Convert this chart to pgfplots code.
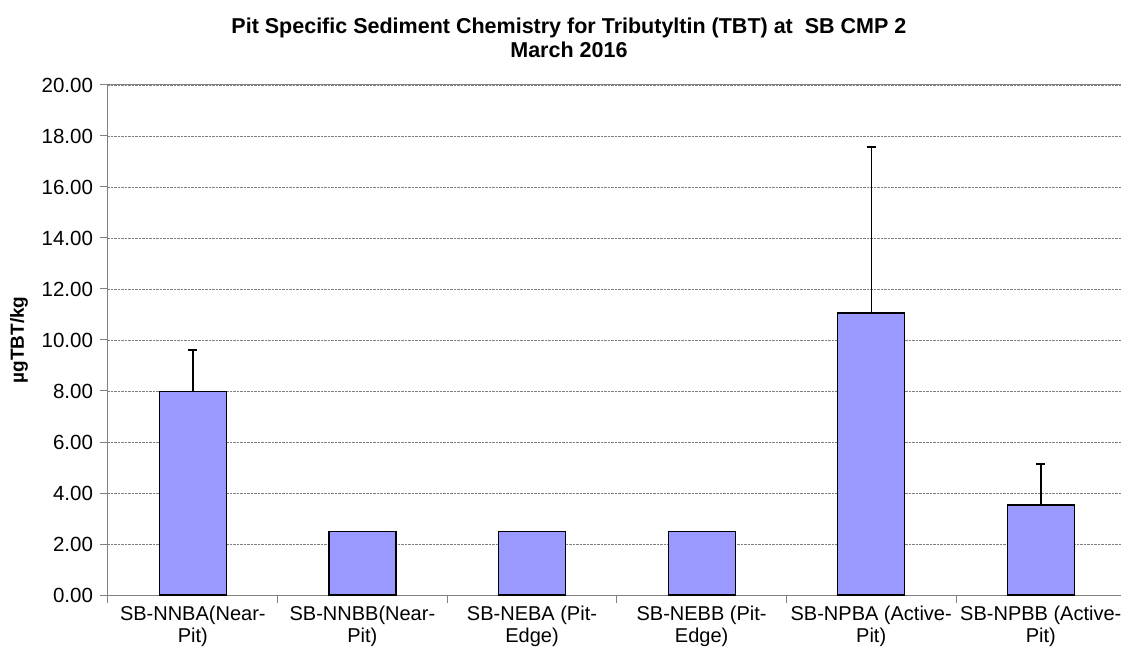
\documentclass[border=0pt]{standalone}
\usepackage{pgfplots}
\pgfplotsset{compat=1.18}
\usepackage{fontspec}
\setmainfont{Liberation Sans}
\definecolor{barblue}{HTML}{9999FF}
\definecolor{gridgray}{HTML}{808080}
\begin{document}
\begin{tikzpicture}
\path[use as bounding box] (-108pt,-58pt) rectangle (1013pt,595pt);
\begin{axis}[
  scale only axis,
  width=1013pt, height=510pt,
  xmin=-0.5, xmax=5.473,
  ymin=0, ymax=20,
  axis x line*=bottom, axis y line*=left,
  axis line style={-, gridgray, line width=1pt},
  ytick={0,2,...,20},
  ymajorgrids,
  grid style={densely dotted, gridgray, line width=0.9pt},
  xtick={-0.5,0.5,1.5,2.5,3.5,4.5},
  xticklabels={SB-NNBA(Near-\\Pit), SB-NNBB(Near-\\Pit), SB-NEBA (Pit-\\Edge), SB-NEBB (Pit-\\Edge), SB-NPBA (Active-\\Pit), SB-NPBB (Active-\\Pit)},
  xticklabel style={xshift=84.8pt, align=center, font=\fontsize{20}{22}\selectfont},
  yticklabel style={xshift=-4pt, font=\fontsize{20.5}{22}\selectfont},
  tick align=outside,
  major tick length=7.5pt,
  tick style={gridgray, line width=1pt},
  /pgf/number format/.cd, fixed, fixed zerofill, precision=2, assume math mode=true,
  /pgfplots/.cd,
  ylabel={µgTBT/kg},
  ylabel style={yshift=7pt, font=\bfseries\fontsize{19}{20}\selectfont},
  title={Pit Specific Sediment Chemistry for Tributyltin (TBT) at \ SB CMP 2\\March 2016},
  title style={at={(rel axis cs:0.455,1)}, anchor=south, yshift=18pt, align=center, font=\bfseries\fontsize{21.5}{24}\selectfont},
]
\addplot[ybar, bar shift=0pt, bar width=67pt, fill=barblue, draw=black, line width=1.2pt,
  error bars/.cd, y dir=plus, y explicit, error mark=|,
  error bar style={black, line width=1.4pt},
  error mark options={black, line width=1.4pt, mark size=4.5pt}]
  coordinates {
  (0,7.98) +- (0,1.63)
  (4,11.06) +- (0,6.51)
  (5,3.53) +- (0,1.61)
};
\addplot[ybar, bar shift=0pt, bar width=67pt, fill=barblue, draw=black, line width=1.2pt]
  coordinates {
  (1,2.50)
  (2,2.50)
  (3,2.50)
};
\draw[gridgray, line width=1pt] (rel axis cs:0,1) -- (rel axis cs:1,1);
\end{axis}
\end{tikzpicture}
\end{document}
